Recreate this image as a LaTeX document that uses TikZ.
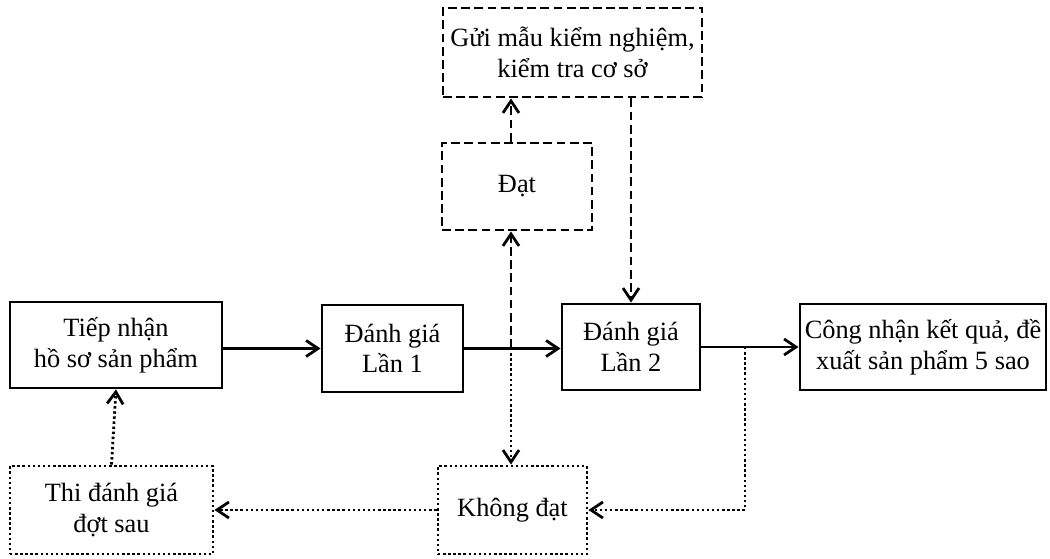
\documentclass[tikz,border=0pt]{standalone}
\usepackage{fontspec}
\setmainfont{Liberation Serif}
\usetikzlibrary{arrows.meta}

\tikzset{
  box/.style={draw, line width=1.6pt, align=center, inner sep=0pt,
    font=\fontsize{15}{17.5}\selectfont},
  solidbox/.style={box},
  dashbox/.style={box, dash pattern=on 5pt off 2.5pt},
  dotbox/.style={box, dash pattern=on 1.4pt off 1.5pt},
  conn/.style={line width=1.6pt, -{Straight Barb[length=2.4mm,width=3.2mm]}},
  dashconn/.style={conn, dash pattern=on 5pt off 2.5pt},
  dotconn/.style={conn, dash pattern=on 1.4pt off 1.5pt}
}

\begin{document}
\begin{tikzpicture}
\useasboundingbox[fill=white] (0,0) rectangle (21.000,-11.160);
% main row
\node[solidbox, minimum width=4.24cm, minimum height=1.72cm] (tiep) at (2.320,-6.900) {Tiếp nhận\\hồ sơ sản phẩm};
\node[solidbox, minimum width=2.82cm, minimum height=1.74cm] (lan1) at (7.850,-6.970) {Đánh giá\\Lần 1};
\node[solidbox, minimum width=2.76cm, minimum height=1.72cm] (lan2) at (12.620,-6.940) {Đánh giá\\Lần 2};
\node[solidbox, minimum width=4.92cm, minimum height=1.72cm] (congnhan) at (18.460,-6.940) {Công nhận kết quả, đề\\xuất sản phẩm 5 sao};
% upper branch
\node[dashbox, minimum width=5.18cm, minimum height=1.78cm] (gui) at (11.450,-1.050) {Gửi mẫu kiểm nghiệm,\\kiểm tra cơ sở};
\node[dashbox, minimum width=3.00cm, minimum height=1.74cm] (dat) at (10.340,-3.730) {Đạt};
% lower branch
\node[dotbox, minimum width=4.06cm, minimum height=1.76cm] (thi) at (2.230,-10.200) {Thi đánh giá\\đợt sau};
\node[dotbox, minimum width=2.98cm, minimum height=1.76cm] (khong) at (10.250,-10.200) {Không đạt};

\coordinate (split) at (10.220,-6.960);
\coordinate (drop) at (14.900,-6.940);

\draw[conn] (tiep.east |- lan1) -- (lan1.west);
\draw[conn] (lan1.east) -- (lan2.west |- lan1);
\draw[conn] (lan2.east) -- (congnhan.west);
\draw[dashconn] (split) -- (split |- dat.south);
\draw[dashconn] (split |- dat.north) -- (split |- gui.south);
\draw[dashconn] (lan2.north |- gui.south) -- (lan2.north);
\draw[dotconn] (split) -- (split |- khong.north);
\draw[dotconn] (drop) -- (drop |- khong.east) -- (khong.east);
\draw[dotconn] (khong.west) -- (thi.east);
\draw[dotconn] (thi.north) -- (tiep.south);
\end{tikzpicture}
\end{document}
